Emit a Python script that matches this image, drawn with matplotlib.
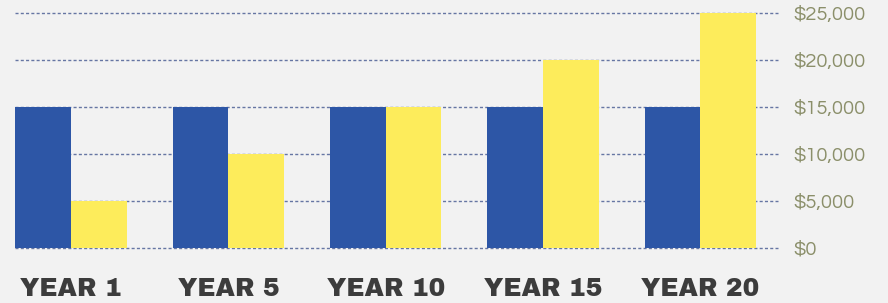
import matplotlib
matplotlib.use('Agg')

import matplotlib.pyplot as plt
import numpy as np

# Datos del gráfico
years = ['YEAR 1', 'YEAR 5', 'YEAR 10', 'YEAR 15', 'YEAR 20']
blue_vals = [15000, 15000, 15000, 15000, 15000]
yellow_vals = [5000, 10000, 15000, 20000, 25000]
yticks = [0, 5000, 10000, 15000, 20000, 25000]
ytick_labels = ['$0', '$5,000', '$10,000', '$15,000', '$20,000', '$25,000']

bg = '#f2f2f2'
blue = '#2d56a6'
yellow = '#fdec5b'

fig = plt.figure(figsize=(8.88, 3.03), dpi=100, facecolor=bg)
# ejes en pixeles: izquierda 15.4, derecha 778, abajo 248 (desde arriba), arriba 0
W, H = 888, 303
ax = fig.add_axes([15.4 / W, (H - 248) / H, (778 - 15.4) / W, 248 / H])
ax.set_facecolor(bg)

x = np.arange(len(years))
w = 0.3535
ax.bar(x - w / 2, blue_vals, width=w, color=blue, zorder=2)
ax.bar(x + w / 2, yellow_vals, width=w, color=yellow, zorder=2)

ax.set_xlim(-w, 4.493)
ax.set_ylim(0, 26383)

ax.set_yticks(yticks)
ax.set_yticklabels(ytick_labels)
ax.yaxis.tick_right()
ax.grid(axis='y', color='#6676a3', linestyle=(0, (2.2, 1.6)), linewidth=1.0, zorder=1)
for gl in ax.get_ygridlines():
    gl.set_clip_on(False)
ax.tick_params(axis='y', length=0, pad=11, labelsize=14.5, labelcolor='#8b8f6a')
for t in ax.get_yticklabels():
    t.set_fontfamily(['Questrial', 'DejaVu Sans'])

ax.set_xticks(x)
ax.set_xticklabels(years)
ax.tick_params(axis='x', length=0, pad=21, labelsize=18, labelcolor='#3c3c3c')
for t in ax.get_xticklabels():
    t.set_fontfamily(['Archivo Black', 'Barlow', 'DejaVu Sans'])
    t.set_fontweight(900)

for s in ax.spines.values():
    s.set_visible(False)

plt.savefig('out.png', dpi=100, facecolor=bg)
